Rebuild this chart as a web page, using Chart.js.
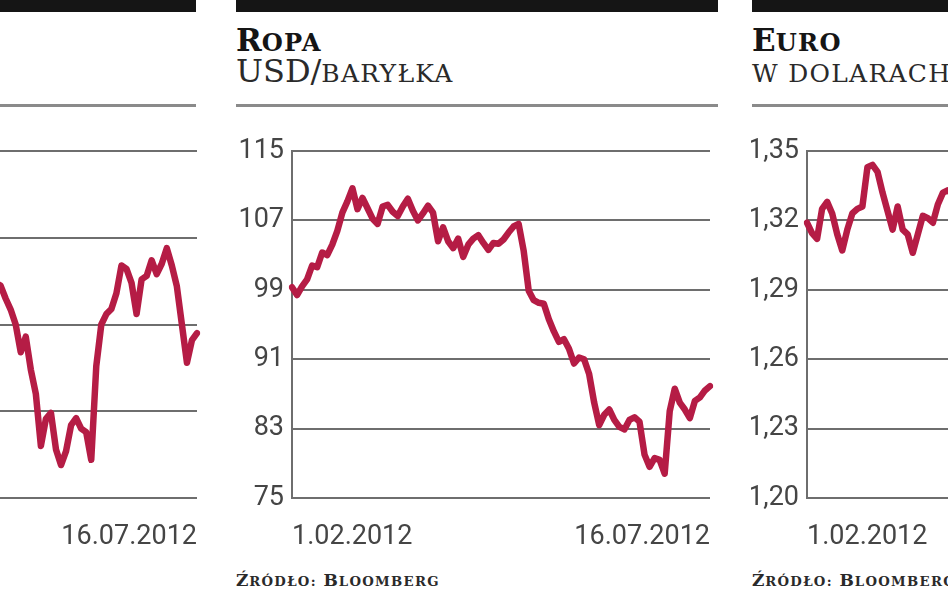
<!DOCTYPE html>
<html>
<head>
<meta charset="utf-8">
<script src="https://cdn.jsdelivr.net/npm/chart.js@4"></script>
<style>
  html, body { margin: 0; padding: 0; width: 948px; height: 593px; overflow: hidden; background: #fff; }
  .bar { position: absolute; top: 0; height: 12px; background: #151515; }
  .sep { position: absolute; top: 104px; height: 3px; background: #8a8a8a; }
  .t1 { position: absolute; top: 25px; font: bold 31px 'DejaVu Serif', serif; line-height: 30px; color: #151515; white-space: nowrap; }
  .t2 { position: absolute; top: 55px; font: 32px 'DejaVu Serif', serif; line-height: 32px; color: #2a2a2a; white-space: nowrap; }
  .src { position: absolute; top: 572px; font: bold 17px 'DejaVu Serif', serif; line-height: 16px; color: #2a2a2a; white-space: nowrap; letter-spacing: 0.8px; }
  .sc { font-size: 0.78em; text-transform: uppercase; letter-spacing: 1.3px; }
  canvas { position: absolute; top: 130px; }
</style>
</head>
<body>
<!-- lewy panel (ucięty) -->
<div class="bar" style="left:0;width:196px"></div>
<div class="sep" style="left:0;width:196px"></div>
<canvas id="lewyChart" width="484" height="420" style="left:-277px"></canvas>

<!-- Ropa -->
<div class="bar" style="left:236px;width:482px"></div>
<div class="t1" style="left:236px">R<span class="sc">opa</span></div>
<div class="t2" style="left:236px">USD/<span class="sc">baryłka</span></div>
<div class="sep" style="left:236px;width:482px"></div>
<canvas id="ropaChart" width="484" height="420" style="left:236px"></canvas>
<div class="src" style="left:236px">Ź<span class="sc">ródło:</span> B<span class="sc">loomberg</span></div>

<!-- Euro (ucięty z prawej) -->
<div class="bar" style="left:752px;width:196px"></div>
<div class="t1" style="left:752px">E<span class="sc">uro</span></div>
<div class="t2" style="left:752px"><span class="sc">w dolarach</span></div>
<div class="sep" style="left:752px;width:196px"></div>
<canvas id="euroChart" width="484" height="420" style="left:751px"></canvas>
<div class="src" style="left:752px">Ź<span class="sc">ródło:</span> B<span class="sc">loomberg</span></div>

<script>
// dane
const dateLabels = ['1.02.2012', '16.07.2012'];
const ropaTicks = [75, 83, 91, 99, 107, 115];
const euroTicks = [1.20, 1.23, 1.26, 1.29, 1.32, 1.35];
const lewyTicks = [0, 25, 50, 75, 100];

const ropa = [99.3, 98.4, 99.4, 100.2, 101.8, 101.6, 103.3, 103.0, 104.2, 105.8,
  107.9, 109.2, 110.7, 108.3, 109.6, 108.4, 107.2, 106.6, 108.6, 108.8,
  108.0, 107.5, 108.6, 109.5, 108.1, 107.0, 107.8, 108.7, 107.9, 104.6,
  106.2, 104.6, 103.8, 104.9, 102.8, 104.2, 104.9, 105.3, 104.4, 103.6,
  104.4, 104.3, 104.8, 105.6, 106.3, 106.6, 103.5, 98.9, 97.8, 97.5,
  97.4, 95.6, 94.2, 93.0, 93.3, 92.2, 90.5, 91.2, 91.0, 89.3,
  86.0, 83.4, 84.6, 85.2, 84.0, 83.2, 82.9, 84.0, 84.3, 83.8,
  80.0, 78.6, 79.6, 79.4, 77.8, 85.0, 87.6, 86.0, 85.2, 84.2,
  86.2, 86.6, 87.4, 87.9];

// tylko widoczna część (dalej wykres jest ucięty)
const euro = [1.319, 1.3145, 1.312, 1.325, 1.328, 1.323, 1.314, 1.307, 1.316, 1.323,
  1.325, 1.326, 1.343, 1.344, 1.341, 1.332, 1.324, 1.316, 1.326, 1.316,
  1.314, 1.306, 1.314, 1.322, 1.321, 1.319, 1.327, 1.332, 1.333, 1.331];

// lewy panel: widoczna tylko końcówka, skala bez podpisów (0-100)
const lewyVisible = [62, 61.2, 57.5, 54.3, 50, 42, 46.5, 37, 30, 15,
  22.8, 24.5, 14, 9.5, 13.5, 21, 23, 20, 19, 11,
  38, 50, 53, 54.5, 59, 67, 66, 62, 53, 63,
  64, 68.5, 64.5, 67.5, 72, 67, 61, 50, 39, 45.5, 47.5];
const lewy = Array(ropa.length - lewyVisible.length).fill(null).concat(lewyVisible);

const days = ropa.map((_, i) => i);
const tickFont = { family: 'Roboto', size: 27, weight: 400 };

function makeChart(id, values, ticks, showY, fmt) {
  return new Chart(document.getElementById(id), {
    type: 'line',
    data: {
      labels: days,
      datasets: [{
        data: values,
        borderColor: '#b51c45',
        borderWidth: 6.5,
        pointRadius: 0,
        tension: 0,
        borderJoinStyle: 'round',
        borderCapStyle: 'round'
      }]
    },
    options: {
      responsive: false,
      animation: false,
      layout: { padding: { top: 21, right: 10, left: 0, bottom: 0 } },
      plugins: { legend: { display: false }, tooltip: { enabled: false } },
      scales: {
        x: {
          grid: { display: false },
          border: { display: false },
          ticks: {
            autoSkip: false, maxRotation: 0, align: 'inner', padding: 15,
            color: '#454545', font: tickFont,
            callback: (v, i, all) => i === 0 ? dateLabels[0] : (i === all.length - 1 ? dateLabels[1] : '')
          },
          afterFit: s => { s.height = 52; s.paddingLeft = 0; s.paddingRight = 0; }
        },
        y: {
          min: ticks[0], max: ticks[ticks.length - 1],
          afterBuildTicks: s => { s.ticks = ticks.map(v => ({ value: v })); },
          grid: { color: '#6e6e6e', lineWidth: 2, drawTicks: false },
          border: { display: true, color: '#6e6e6e', width: 2 },
          ticks: { display: showY, padding: 8, color: '#454545', font: tickFont, callback: fmt },
          afterFit: s => { s.width = 56; s.paddingTop = 0; s.paddingBottom = 0; }
        }
      }
    }
  });
}

makeChart('lewyChart', lewy, lewyTicks, false, v => v);
makeChart('ropaChart', ropa, ropaTicks, true, v => String(v));
makeChart('euroChart', euro, euroTicks, true, v => v.toFixed(2).replace('.', ','));
</script>
</body>
</html>
